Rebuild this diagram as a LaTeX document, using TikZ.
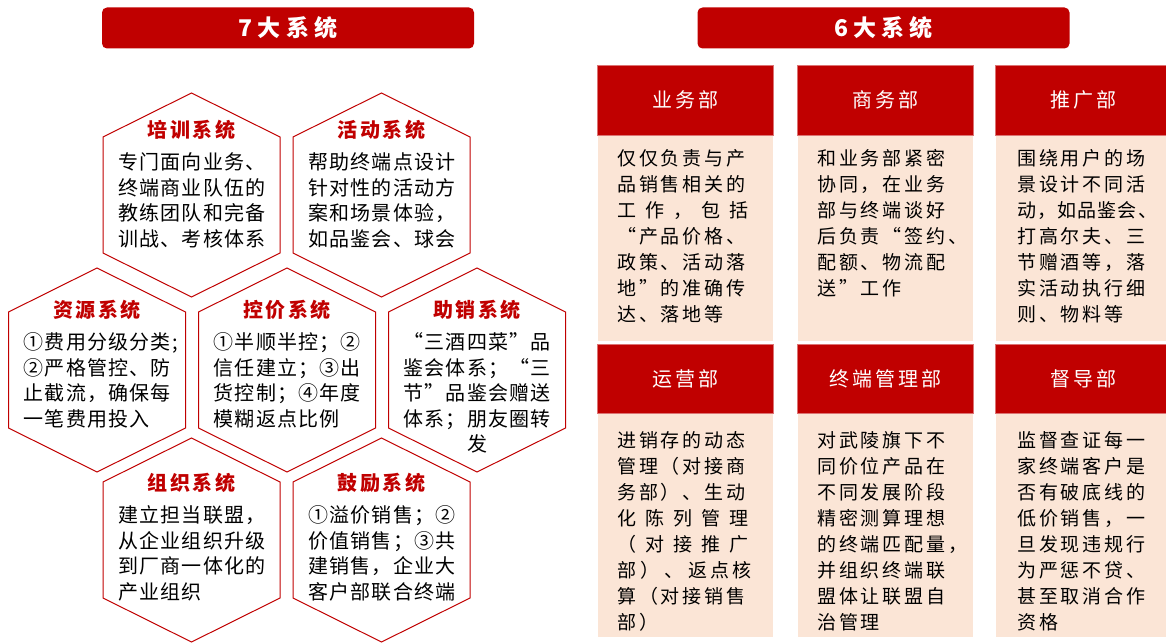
\documentclass[tikz,border=0pt]{standalone}
\usepackage{fontspec}
\setmainfont{Noto Sans CJK SC}
\newfontfamily\hexfont[LetterSpace=6]{Noto Sans CJK SC}
\newfontfamily\titlefont[LetterSpace=12]{Noto Sans CJK SC}
\newfontfamily\deptfont[LetterSpace=15]{Noto Sans CJK SC}
\newfontfamily\headfont[LetterSpace=22]{Noto Sans CJK SC}
\usepackage{tikz}
\usetikzlibrary{positioning}
\definecolor{sysRed}{RGB}{192, 0, 0}
\definecolor{deptPeach}{RGB}{251, 229, 214}
\newcommand{\spreadline}[1]{\makebox[6.9em][s]{#1}}

\begin{document}
\begin{tikzpicture}[
    x=1pt, y=-1pt,
    bar/.style={rectangle, fill=sysRed, rounded corners=5pt, minimum width=372pt,
                minimum height=41pt, inner sep=0pt, text=white,
                font=\headfont\bfseries\fontsize{23}{23}\selectfont},
    hexline/.style={draw=sysRed, line width=1pt, line join=miter},
    hexname/.style={inner sep=0pt, text=sysRed,
                font=\titlefont\bfseries\fontsize{20}{20}\selectfont},
    hexbody/.style={inner sep=0pt, align=left, anchor=north west,
                font=\hexfont\fontsize{20}{25.5}\selectfont},
    depthead/.style={rectangle, fill=sysRed, draw=sysRed!55, line width=0.6pt,
                minimum width=176pt, minimum height=70pt, inner sep=0pt, anchor=north west,
                text=white, font=\deptfont\fontsize{20}{20}\selectfont},
    deptbody/.style={rectangle, fill=deptPeach, minimum width=175pt, inner sep=0pt,
                anchor=north west},
    depttext/.style={inner sep=0pt, align=left, anchor=north west,
                font=\deptfont\fontsize{19}{26}\selectfont},
  ]
    \useasboundingbox (0,0) rectangle (1166,642);

    % Title bars
    \node[bar] (sevenBar) at (288,28) {7大系统};
    \node[bar] (sixBar) at (883.5,28) {6大系统};

    % Hexagons, row 1
    \draw[hexline] (191.5,93) -- ++(88.5,44) -- ++(0,116) -- ++(-88.5,44)
          -- ++(-88.5,-44) -- ++(0,-116) -- cycle;
    \draw[hexline] (381.5,93) -- ++(88.5,44) -- ++(0,116) -- ++(-88.5,44)
          -- ++(-88.5,-44) -- ++(0,-116) -- cycle;
    \node[hexname] (pxName) at (191.5,130) {培训系统};
    \node[hexbody] (pxBody) at (118,152.8)
         {专门面向业务、\\终端商业队伍的\\教练团队和完备\\训战、考核体系};
    \node[hexname] (hdName) at (381.5,130) {活动系统};
    \node[hexbody] (hdBody) at (308,152.8)
         {帮助终端点设计\\针对性的活动方\\案和场景体验，\\如品鉴会、球会};

    % Hexagons, row 2
    \draw[hexline] (97,268) -- ++(88.5,44) -- ++(0,116) -- ++(-88.5,44)
          -- ++(-88.5,-44) -- ++(0,-116) -- cycle;
    \draw[hexline] (287,268) -- ++(88.5,44) -- ++(0,116) -- ++(-88.5,44)
          -- ++(-88.5,-44) -- ++(0,-116) -- cycle;
    \draw[hexline] (477,268) -- ++(88.5,44) -- ++(0,116) -- ++(-88.5,44)
          -- ++(-88.5,-44) -- ++(0,-116) -- cycle;
    \node[hexname] (zyName) at (97,310) {资源系统};
    \node[hexbody] (zyBody) at (23.5,332.8)
         {①费用分级分类;\\②严格管控、防\\止截流，确保每\\一笔费用投入};
    \node[hexname] (kjName) at (287,310) {控价系统};
    \node[hexbody] (kjBody) at (213.5,332.8)
         {①半顺半控；②\\信任建立；③出\\货控制；④年度\\模糊返点比例};
    \node[hexname] (zxName) at (477,310) {助销系统};
    \node[hexbody, align=center, anchor=north] (zxBody) at (477,332.8)
         {“三酒四菜”品\\鉴会体系；“三\\节”品鉴会赠送\\体系；朋友圈转\\发};

    % Hexagons, row 3
    \draw[hexline] (191.5,438) -- ++(88.5,44) -- ++(0,116) -- ++(-88.5,44)
          -- ++(-88.5,-44) -- ++(0,-116) -- cycle;
    \draw[hexline] (381.5,438) -- ++(88.5,44) -- ++(0,116) -- ++(-88.5,44)
          -- ++(-88.5,-44) -- ++(0,-116) -- cycle;
    \node[hexname] (zzName) at (191.5,483) {组织系统};
    \node[hexbody] (zzBody) at (118,505.8)
         {建立担当联盟，\\从企业组织升级\\到厂商一体化的\\产业组织};
    \node[hexname] (glName) at (381.5,483) {鼓励系统};
    \node[hexbody] (glBody) at (308,505.8)
         {①溢价销售；②\\价值销售；③共\\建销售，企业大\\客户部联合终端};

    % Departments, row 1
    \node[depthead] (ywHead) at (597,65) {业务部};
    \node[depthead] (swHead) at (797,65) {商务部};
    \node[depthead] (tgHead) at (995,65) {推广部};
    \node[deptbody, minimum height=205pt] (ywBody) at (598,136) {};
    \node[deptbody, minimum height=205pt] (swBody) at (798,136) {};
    \node[deptbody, minimum height=205pt] (tgBody) at (996,136) {};
    \node[depttext] (ywText) at (617,149.3)
         {仅仅负责与产\\品销售相关的\\\spreadline{工 作 ， 包 括}\\“产品价格、\\政策、活动落\\地”的准确传\\达、落地等};
    \node[depttext] (swText) at (817,149.3)
         {和业务部紧密\\协同，在业务\\部与终端谈好\\后负责“签约、\\配额、物流配\\送”工作};
    \node[depttext] (tgText) at (1017,149.3)
         {围绕用户的场\\景设计不同活\\{\hexfont 动，如品鉴会、}\\打高尔夫、三\\节赠酒等，落\\实活动执行细\\则、物料等};

    % Departments, row 2
    \node[depthead, minimum height=69pt] (yyHead) at (597,344) {运营部};
    \node[depthead, minimum height=69pt] (zdHead) at (797,344) {终端管理部};
    \node[depthead, minimum height=69pt] (ddHead) at (995,344) {督导部};
    \node[deptbody, minimum height=223pt] (yyBody) at (598,414) {};
    \node[deptbody, minimum height=223pt] (zdBody) at (798,414) {};
    \node[deptbody, minimum height=223pt] (ddBody) at (996,414) {};
    \node[depttext] (yyText) at (617,431.3)
         {进销存的动态\\管理（对接商\\务部）、生动\\\spreadline{化 陈 列 管 理}\\\spreadline{（ 对 接 推 广}\\\spreadline{部 ） 、 返点核}\\算（对接销售\\部）};
    \node[depttext] (zdText) at (817,431.3)
         {对武陵旗下不\\同价位产品在\\不同发展阶段\\精密测算理想\\的终端匹配量，\\并组织终端联\\盟体让联盟自\\治管理};
    \node[depttext] (ddText) at (1017,431.3)
         {监督查证每一\\家终端客户是\\否有破底线的\\低价销售，一\\旦发现违规行\\为严惩不贷、\\甚至取消合作\\资格};
  \end{tikzpicture}
\end{document}
